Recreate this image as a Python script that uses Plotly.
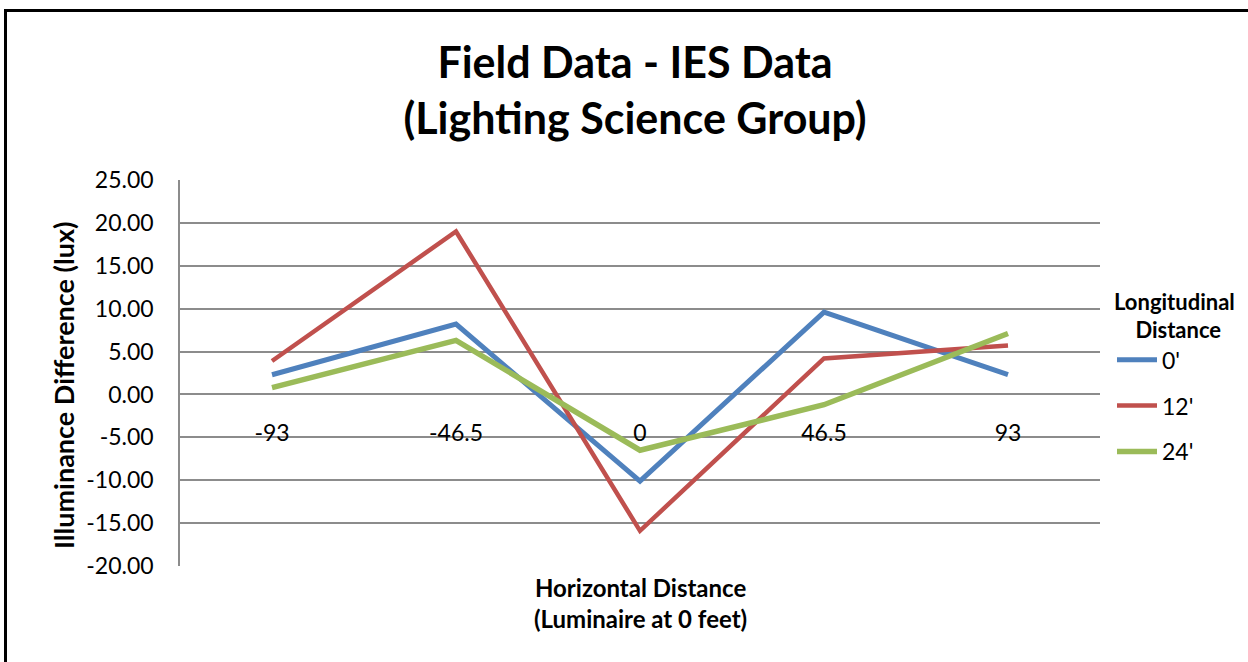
import plotly.graph_objects as go

categories = ["-93", "-46.5", "0", "46.5", "93"]
series_names = ["0'", "12'", "24'"]
values_0 = [2.3, 8.2, -10.1, 9.6, 2.3]
values_12 = [3.9, 19.0, -15.9, 4.2, 5.7]
values_24 = [0.8, 6.3, -6.5, -1.2, 7.1]
colors = ["#4F81BD", "#C0504D", "#9BBB59"]
widths = [5, 4.5, 5.5]
y_ticks = [25, 20, 15, 10, 5, 0, -5, -10, -15, -20]
y_ticktext = ["%.2f" % v for v in y_ticks]

FONT = "Lato"
fig = go.Figure()
for i, (name, vals) in enumerate(zip(series_names, [values_0, values_12, values_24])):
    fig.add_trace(go.Scatter(
        x=categories, y=vals, mode="lines", name=name,
        line=dict(color=colors[i], width=widths[i]), legendgroup=name,
    ))

L, R, T, B = 180, 1100, 180, 566
W, H = 1248, 662
pw, ph = R - L, B - T

def px(x):
    return (x - L) / pw

def py(y):
    return (B - y) / ph

fig.update_layout(
    width=W, height=H,
    margin=dict(l=L, r=W - R, t=T, b=H - B, pad=0, autoexpand=False),
    paper_bgcolor="white", plot_bgcolor="white",
    font=dict(family=FONT, color="black", size=22),
    title=dict(
        text="<b>Field Data - IES Data<br>(Lighting Science Group)</b>",
        x=(635) / W, xanchor="center", y=1 - 78 / H, yanchor="top",
        font=dict(family=FONT, size=43, color="black"),
    ),
    showlegend=True,
    legend=dict(
        x=px(1112), xanchor="left", y=py(281), yanchor="top",
        title=dict(text="<b>Longitudinal<br>&nbsp;&nbsp;&nbsp;&nbsp;Distance</b>", side="top",
                   font=dict(size=22)),
        font=dict(size=23), traceorder="grouped", tracegroupgap=13,
        bgcolor="rgba(0,0,0,0)", itemwidth=40,
    ),
    xaxis=dict(
        type="category", range=[-0.5, 4.5], showgrid=False, showline=False,
        zeroline=False, anchor="free", position=py(394.5),
        tickfont=dict(size=23, family=FONT), ticks="",
        ticklabelstandoff=22, fixedrange=True,
    ),
    yaxis=dict(
        range=[-20, 25], tickvals=y_ticks, ticktext=y_ticktext,
        showgrid=True, gridcolor="#8C8C8C", gridwidth=1.5,
        showline=True, linecolor="#8C8C8C", linewidth=1.5,
        zeroline=False, ticks="outside", ticklen=6, tickcolor="rgba(0,0,0,0)",
        ticklabelstandoff=14,
        tickfont=dict(size=23, family=FONT),
    ),
    annotations=[
        dict(text="<b>Illuminance Difference (lux)</b>", x=px(63), y=py(386),
             xref="paper", yref="paper", textangle=-90, showarrow=False,
             font=dict(size=27, family=FONT), xanchor="center", yanchor="middle"),
        dict(text="<b>Horizontal Distance<br>(Luminaire at 0 feet)</b>", x=px(640), y=py(603),
             xref="paper", yref="paper", showarrow=False,
             font=dict(size=24, family=FONT), xanchor="center", yanchor="middle"),
    ],
    shapes=[
        dict(type="rect", xref="paper", yref="paper",
             x0=px(5.5), x1=px(1400), y0=py(10.5), y1=py(800),
             line=dict(color="black", width=3), fillcolor="rgba(0,0,0,0)", layer="above"),
    ],
)

fig.write_html("out.html", config={"displayModeBar": False},
               post_script="document.body.style.margin='0';document.body.style.overflow='hidden';")
